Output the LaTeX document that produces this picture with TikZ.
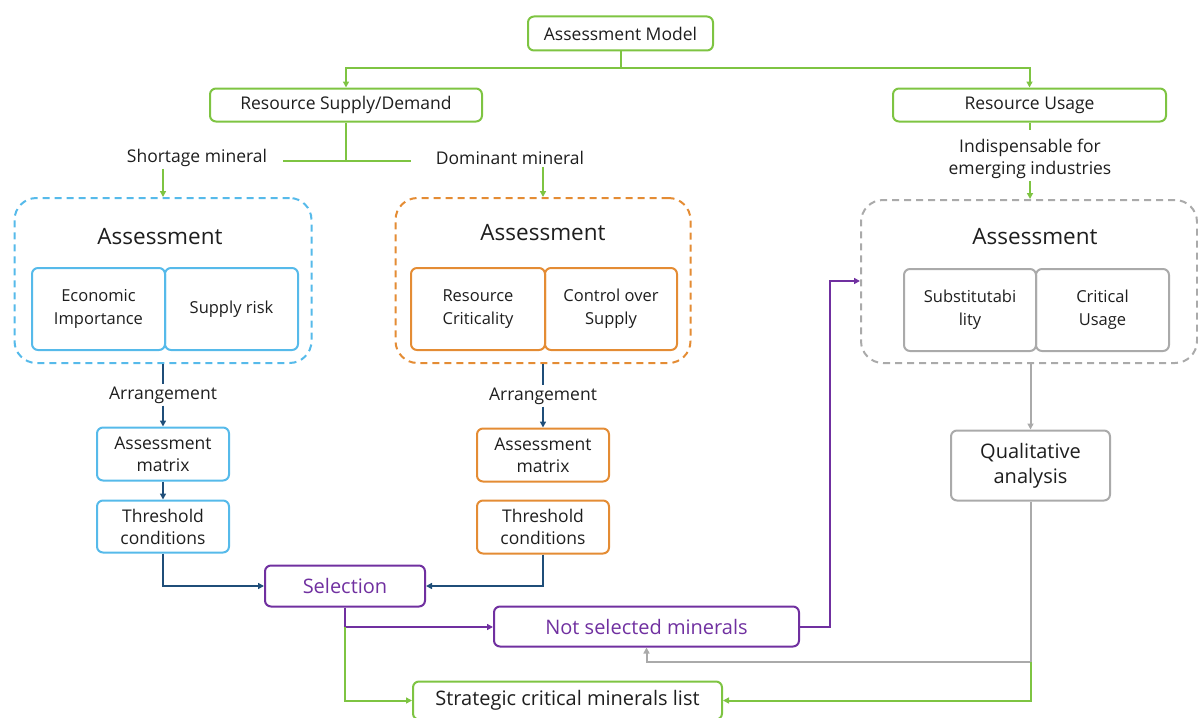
\documentclass[tikz,border=0pt]{standalone}
\usepackage{fontspec}
\setmainfont{Open Sans}
\usetikzlibrary{arrows.meta,positioning}

\definecolor{cgreen}{RGB}{126,196,66}
\definecolor{cblue}{RGB}{86,186,234}
\definecolor{corange}{RGB}{228,140,52}
\definecolor{cpurple}{RGB}{112,48,160}
\definecolor{cdark}{RGB}{31,78,121}
\definecolor{cgray}{RGB}{170,170,170}
\definecolor{ctext}{RGB}{30,30,30}

\newcommand{\fmain}{\fontsize{17.5}{22}\selectfont}
\newcommand{\finner}{\fontsize{16.5}{23}\selectfont}
\newcommand{\fbig}{\fontsize{20}{25}\selectfont}
\newcommand{\ftitle}{\fontsize{22.5}{26}\selectfont}

\tikzset{
  box/.style={draw, rounded corners=6pt, line width=2pt, align=center, inner sep=0pt, text=ctext, font=\fmain},
  greenbox/.style={box, draw=cgreen},
  bluebox/.style={box, draw=cblue},
  orangebox/.style={box, draw=corange},
  graybox/.style={box, draw=cgray},
  purplebox/.style={box, draw=cpurple, text=cpurple, font=\fbig},
  group/.style={draw, dashed, dash pattern=on 7pt off 5pt, rounded corners=22pt, line width=2pt, inner sep=0pt},
  lbl/.style={align=center, text=ctext, font=\fmain, inner sep=2pt},
  tip/.style={-{Triangle[length=6pt,width=6pt]}},
  gline/.style={draw=cgreen, line width=2pt},
  bline/.style={draw=cdark, line width=2pt},
  pline/.style={draw=cpurple, line width=2pt},
  grline/.style={draw=cgray, line width=2pt},
}

\begin{document}
\begin{tikzpicture}[x=1pt,y=-1pt]
\useasboundingbox (0,0) rectangle (1198,717);
\clip (0,0) rectangle (1198,717);

% top level
\node [greenbox, minimum width=185, minimum height=34] (model) at (620.5,33.5) {Assessment Model};
\node [greenbox, minimum width=272, minimum height=33] (rsd) at (346,105) {Resource Supply/Demand};
\node [greenbox, minimum width=273, minimum height=33] (ru) at (1029.5,105) {Resource Usage};
\coordinate (split) at (620.5,68);
\draw[gline] (model.south) -- (split);
\draw[gline, tip] (split) -| (rsd.north);
\draw[gline, tip] (split) -| (ru.north);

% branch labels
\node [lbl] (short) at (197,158) {Shortage mineral};
\node [lbl] (dom) at (510,158) {Dominant mineral};
\node [lbl] (indisp) at (1030,159) {Indispensable for\\emerging industries};
\coordinate (barL) at (283,161);
\coordinate (barR) at (411,161);
\draw[gline] (rsd.south) -- (rsd.south |- barL);
\draw[gline] (barL) -- (barR);
\draw[gline] (ru.south) -- (ru.south |- 0,130);

% assessment groups
\node [group, draw=cblue, minimum width=297, minimum height=165] (blueg) at (163,280.5) {};
\node [group, draw=corange, minimum width=295, minimum height=165] (orangeg) at (543,280.5) {};
\node [group, draw=cgray, minimum width=336, minimum height=163] (grayg) at (1029,281.5) {};
\node [lbl, font=\ftitle] (title1) at (160,237) {Assessment};
\node [lbl, font=\ftitle] (title2) at (543,233) {Assessment};
\node [lbl, font=\ftitle] (title3) at (1035,237) {Assessment};

\node [bluebox, font=\finner, minimum width=133, minimum height=82] (econ) at (98.5,309) {Economic\\Importance};
\node [bluebox, font=\finner, minimum width=133, minimum height=82] (risk) at (231.5,309) {Supply risk};
\node [orangebox, font=\finner, minimum width=134, minimum height=82] (crit) at (478,309) {Resource\\Criticality};
\node [orangebox, font=\finner, minimum width=132, minimum height=82] (ctrl) at (611,309) {Control over\\Supply};
\node [graybox, font=\finner, minimum width=132, minimum height=82] (subst) at (970,310) {Substitutabi\\lity};
\node [graybox, font=\finner, minimum width=133, minimum height=82] (usage) at (1102.5,310) {Critical\\Usage};

\draw[gline, tip] (short.south -| blueg.north) -- (blueg.north);
\draw[gline, tip] (dom.south -| orangeg.north) -- (orangeg.north);
\draw[gline, tip] (indisp.south) -- (grayg.north -| indisp.south);

% blue column
\node [lbl] (arr1) at (163,395) {Arrangement};
\node [bluebox, minimum width=132, minimum height=53] (mat1) at (163,454) {Assessment\\matrix};
\node [bluebox, minimum width=132, minimum height=52] (thr1) at (163,526.5) {Threshold\\conditions};
\draw[bline] (blueg.south) -- (arr1.north);
\draw[bline, tip] (arr1.south) -- (mat1.north);
\draw[bline, tip] (mat1.south) -- (thr1.north);

% orange column
\node [lbl] (arr2) at (543,396) {Arrangement};
\node [orangebox, minimum width=132, minimum height=53] (mat2) at (543,455) {Assessment\\matrix};
\node [orangebox, minimum width=132, minimum height=53] (thr2) at (543,527) {Threshold\\conditions};
\draw[bline] (orangeg.south) -- (arr2.north);
\draw[bline, tip] (arr2.south) -- (mat2.north);

% selection
\node [purplebox, minimum width=160, minimum height=41] (sel) at (345,586) {Selection};
\node [purplebox, minimum width=305, minimum height=40] (notsel) at (646.5,626.5) {Not selected minerals};
\node [greenbox, font=\fbig, minimum width=309, minimum height=38] (list) at (567.5,700.5) {Strategic critical minerals list};
\draw[bline, tip] (thr1.south) |- (sel.west);
\draw[bline, tip] (thr2.south) |- (sel.east);
\coordinate (selbend) at (345,627);
\draw[pline] (sel.south) -- (selbend);
\draw[pline, tip] (selbend) -- (selbend -| notsel.west);
\draw[gline, tip] (selbend) |- (list.west);
\coordinate (pturn) at (830,281);
\draw[pline, tip] (notsel.east) -| (pturn) -- (pturn -| grayg.west);

% qualitative branch
\node [graybox, font=\fbig, minimum width=159, minimum height=70] (qual) at (1030.5,465.5) {Qualitative\\analysis};
\draw[grline, tip] (grayg.south -| qual.north) -- (qual.north);
\coordinate (qsplit) at (1030.5,662);
\draw[grline] (qual.south) -- (qsplit);
\draw[grline, tip] (qsplit) -| (notsel.south);
\draw[gline, tip] (qsplit) |- (list.east);
\end{tikzpicture}
\end{document}
